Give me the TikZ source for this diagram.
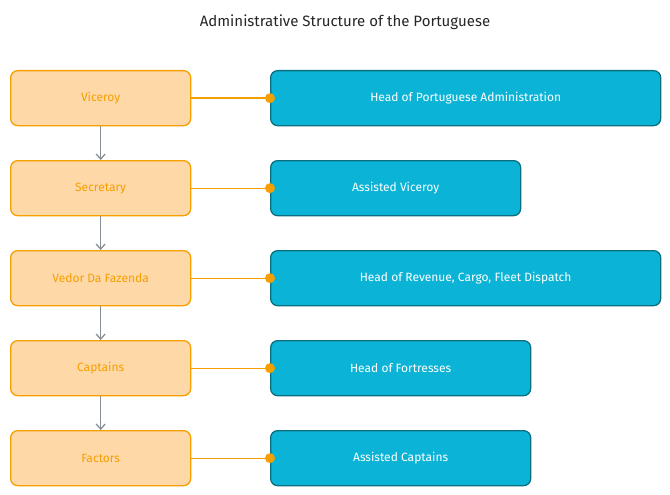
\documentclass[tikz,border=0pt]{standalone}
\usepackage{fontspec}
\usetikzlibrary{arrows.meta}
\setmainfont{Fira Sans}
\definecolor{ofill}{HTML}{FFD8A8}
\definecolor{oline}{HTML}{F59F00}
\definecolor{bfill}{HTML}{0BB4D6}
\definecolor{bline}{HTML}{0B6F80}
\definecolor{gline}{HTML}{868E96}
\begin{document}
\begin{tikzpicture}[x=1pt,y=-1pt,
  lbox/.style={draw=oline,fill=ofill,line width=1.3pt,rounded corners=7pt,minimum width=180pt,minimum height=55pt,text=oline,font=\fontsize{12}{14}\selectfont,anchor=north west,inner sep=0pt},
  rbox/.style={draw=bline,fill=bfill,line width=1.3pt,rounded corners=7pt,minimum height=55pt,text=white,font=\fontsize{12}{14}\selectfont,anchor=north west,inner sep=0pt},
  link/.style={draw=oline,line width=1.3pt},
  dotc/.style={circle,fill=oline,minimum size=10pt,inner sep=0pt},
  down/.style={draw=gline,line width=1.3pt,-{Straight Barb[length=5pt,width=9pt]}}]
\useasboundingbox (0,0) rectangle (670,495);
\node[font=\fontsize{15}{18}\selectfont,text=black!85] (title) at (345,22) {Administrative Structure of the Portuguese};
\foreach \n/\y/\t/\w/\r in {a/70/Viceroy/390/Head of Portuguese Administration,
  b/160/Secretary/250/Assisted Viceroy,
  c/250/Vedor Da Fazenda/390/{Head of Revenue, Cargo, Fleet Dispatch},
  d/340/Captains/260/Head of Fortresses,
  e/430/Factors/260/Assisted Captains}{
  \node[lbox] (L\n) at (10,\y) {\t};
  \node[rbox,minimum width=\w pt] (R\n) at (270,\y) {\r};
  \node[dotc] (D\n) at (R\n.west) {};
  \draw[link] (L\n.east) -- (D\n.center);
}
\foreach \p/\q in {a/b,b/c,c/d,d/e}{\draw[down] (L\p.south) -- (L\q.north);}
\end{tikzpicture}
\end{document}
